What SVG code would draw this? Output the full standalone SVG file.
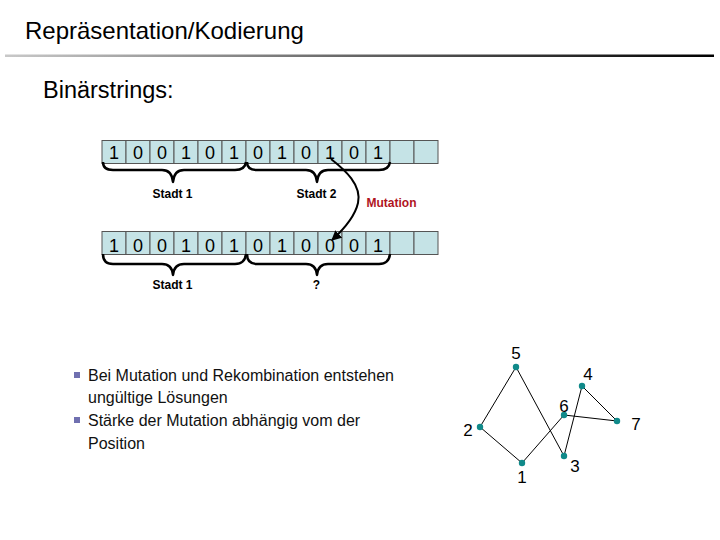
<svg xmlns="http://www.w3.org/2000/svg" width="720" height="540" viewBox="0 0 720 540">
<defs>
<linearGradient id="rule" x1="0" y1="0" x2="1" y2="0">
<stop offset="0" stop-color="#c8c8c8"/>
<stop offset="1" stop-color="#000"/>
</linearGradient>
<marker id="arr" viewBox="0 0 10 10" refX="9" refY="5" markerWidth="5" markerHeight="5" orient="auto">
<path d="M0,0 L10,5 L0,10 z" fill="#000"/>
</marker>
<style>
text{font-family:"Liberation Sans",Arial,sans-serif}
.cell{fill:#c5e3e6;stroke:#555;stroke-width:1}
.dig{font-size:18px;text-anchor:middle;fill:#000}
.brace{fill:none;stroke:#000;stroke-width:2.5;stroke-linejoin:round}
.lbl{font-size:12px;font-weight:bold;text-anchor:middle;fill:#000}
.bul{font-size:16px;fill:#111}
.edge{stroke:#000;stroke-width:1;fill:none}
.node{fill:#108a8a}
.nl{font-size:17px;text-anchor:middle;fill:#000}
</style>
</defs>
<rect width="720" height="540" fill="#fff"/>
<g id="title">
<text x="25" y="39" font-size="24">Repräsentation/Kodierung</text>
<rect x="5" y="54.5" width="709" height="2.5" fill="url(#rule)"/>
</g>
<text id="subtitle" x="43" y="98" font-size="23.5">Binärstrings:</text>

<g id="row1">
<rect class="cell" x="102" y="140.5" width="24" height="23"/>
<rect class="cell" x="126" y="140.5" width="24" height="23"/>
<rect class="cell" x="150" y="140.5" width="24" height="23"/>
<rect class="cell" x="174" y="140.5" width="24" height="23"/>
<rect class="cell" x="198" y="140.5" width="24" height="23"/>
<rect class="cell" x="222" y="140.5" width="24" height="23"/>
<rect class="cell" x="246" y="140.5" width="24" height="23"/>
<rect class="cell" x="270" y="140.5" width="24" height="23"/>
<rect class="cell" x="294" y="140.5" width="24" height="23"/>
<rect class="cell" x="318" y="140.5" width="24" height="23"/>
<rect class="cell" x="342" y="140.5" width="24" height="23"/>
<rect class="cell" x="366" y="140.5" width="24" height="23"/>
<rect class="cell" x="390" y="140.5" width="24" height="23"/>
<rect class="cell" x="414" y="140.5" width="24" height="23"/>
<text class="dig" x="114" y="158.5">1</text>
<text class="dig" x="138" y="158.5">0</text>
<text class="dig" x="162" y="158.5">0</text>
<text class="dig" x="186" y="158.5">1</text>
<text class="dig" x="210" y="158.5">0</text>
<text class="dig" x="234" y="158.5">1</text>
<text class="dig" x="258" y="158.5">0</text>
<text class="dig" x="282" y="158.5">1</text>
<text class="dig" x="306" y="158.5">0</text>
<text class="dig" x="330" y="158.5">1</text>
<text class="dig" x="354" y="158.5">0</text>
<text class="dig" x="378" y="158.5">1</text>
</g>

<g id="row2">
<rect class="cell" x="102" y="231.5" width="24" height="23"/>
<rect class="cell" x="126" y="231.5" width="24" height="23"/>
<rect class="cell" x="150" y="231.5" width="24" height="23"/>
<rect class="cell" x="174" y="231.5" width="24" height="23"/>
<rect class="cell" x="198" y="231.5" width="24" height="23"/>
<rect class="cell" x="222" y="231.5" width="24" height="23"/>
<rect class="cell" x="246" y="231.5" width="24" height="23"/>
<rect class="cell" x="270" y="231.5" width="24" height="23"/>
<rect class="cell" x="294" y="231.5" width="24" height="23"/>
<rect class="cell" x="318" y="231.5" width="24" height="23"/>
<rect class="cell" x="342" y="231.5" width="24" height="23"/>
<rect class="cell" x="366" y="231.5" width="24" height="23"/>
<rect class="cell" x="390" y="231.5" width="24" height="23"/>
<rect class="cell" x="414" y="231.5" width="24" height="23"/>
<text class="dig" x="114" y="251.5">1</text>
<text class="dig" x="138" y="251.5">0</text>
<text class="dig" x="162" y="251.5">0</text>
<text class="dig" x="186" y="251.5">1</text>
<text class="dig" x="210" y="251.5">0</text>
<text class="dig" x="234" y="251.5">1</text>
<text class="dig" x="258" y="251.5">0</text>
<text class="dig" x="282" y="251.5">1</text>
<text class="dig" x="306" y="251.5">0</text>
<text class="dig" x="330" y="251.5">0</text>
<text class="dig" x="354" y="251.5">0</text>
<text class="dig" x="378" y="251.5">1</text>
</g>

<g id="braces">
<path class="brace" d="M103,162 Q103,170 113,170 L162,170 Q172,170 173,182 Q174,170 184,170 L235,170 Q245,170 246,162"/>
<path class="brace" d="M247,162 Q247,170 257,170 L306,170 Q316,170 317,182 Q318,170 328,170 L379,170 Q389,170 390,162"/>
<path class="brace" d="M103,254 Q103,264 113,264 L162,264 Q172,264 173,275 Q174,264 184,264 L235,264 Q245,264 246,254"/>
<path class="brace" d="M247,254 Q247,264 257,264 L306,264 Q316,264 317,275 Q318,264 328,264 L379,264 Q389,264 390,254"/>
</g>
<g id="brace-labels">
<text class="lbl" x="172.5" y="198">Stadt 1</text>
<text class="lbl" x="316.5" y="198">Stadt 2</text>
<text class="lbl" x="172.5" y="289">Stadt 1</text>
<text class="lbl" x="316.5" y="289">?</text>
</g>

<g id="mutation">
<path d="M331,159 C345,170 362,185 358,203 C355,216 343,230 332,240" fill="none" stroke="#000" stroke-width="2" marker-end="url(#arr)"/>
<text x="391.5" y="207" font-size="12" font-weight="bold" fill="#b0141e" text-anchor="middle">Mutation</text>
</g>

<g id="bullets">
<rect x="74" y="372" width="6" height="6" fill="#7070b0"/>
<text class="bul" x="88" y="381">Bei Mutation und Rekombination entstehen</text>
<text class="bul" x="88" y="403">ungültige Lösungen</text>
<rect x="74" y="417" width="6" height="6" fill="#7070b0"/>
<text class="bul" x="88" y="426">Stärke der Mutation abhängig vom der</text>
<text class="bul" x="88" y="449">Position</text>
</g>

<g id="connectors">
<line class="edge" x1="516" y1="367" x2="480" y2="427"/>
<line class="edge" x1="516" y1="367" x2="564" y2="456"/>
<line class="edge" x1="480" y1="427" x2="522" y2="463"/>
<line class="edge" x1="522" y1="463" x2="564" y2="415"/>
<line class="edge" x1="564" y1="415" x2="617" y2="421"/>
<line class="edge" x1="617" y1="421" x2="582" y2="386"/>
<line class="edge" x1="582" y1="386" x2="564" y2="456"/>
</g>
<g id="n1"><circle class="node" cx="522" cy="463" r="3.2"/><text class="nl" x="522" y="483">1</text></g>
<g id="n2"><circle class="node" cx="480" cy="427" r="3.2"/><text class="nl" x="468" y="436">2</text></g>
<g id="n3"><circle class="node" cx="564" cy="456" r="3.2"/><text class="nl" x="575" y="472">3</text></g>
<g id="n4"><circle class="node" cx="582" cy="386" r="3.2"/><text class="nl" x="588" y="380">4</text></g>
<g id="n5"><circle class="node" cx="516" cy="367" r="3.2"/><text class="nl" x="516" y="359">5</text></g>
<g id="n6"><circle class="node" cx="564" cy="415" r="3.2"/><text class="nl" x="564" y="412">6</text></g>
<g id="n7"><circle class="node" cx="617" cy="421" r="3.2"/><text class="nl" x="636" y="430">7</text></g>
</svg>
